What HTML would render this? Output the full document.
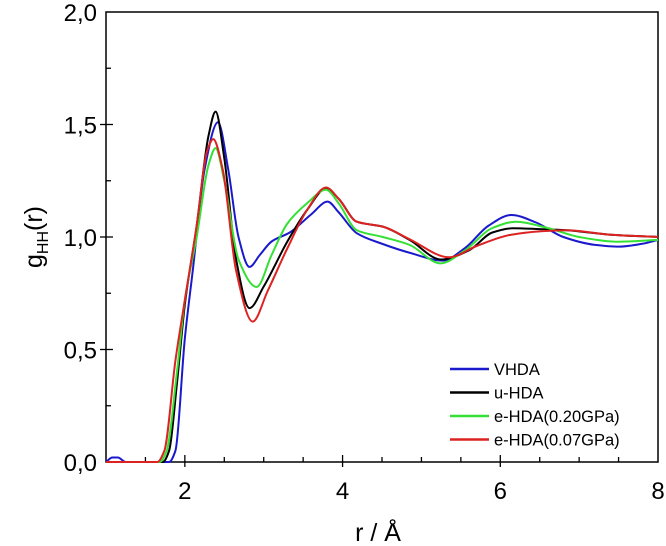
<!DOCTYPE html>
<html><head><meta charset="utf-8"><style>
html,body{margin:0;padding:0;background:#fff;}
svg{display:block;font-family:"Liberation Sans",sans-serif;}
</style></head><body>
<svg id="chart" width="666" height="546">
<g id="axes"></g>
<g id="series"></g>
<g id="legend"></g>
<text x="378" y="541" text-anchor="middle" font-size="25">r / Å</text>
<text transform="translate(42,237) rotate(-90)" text-anchor="middle" font-size="25">g<tspan font-size="16" dy="6">HH</tspan><tspan dy="-6">(r)</tspan></text>
</svg>
<script>
const xTicks=[2,4,6,8];
const xTickLabels=["2","4","6","8"];
const yTicks=[0,0.5,1.0,1.5,2.0];
const yTickLabels=["0,0","0,5","1,0","1,5","2,0"];
const seriesNames=["VHDA","u-HDA","e-HDA(0.20GPa)","e-HDA(0.07GPa)"];
const seriesColors=["#1a1acc","#000000","#33e033","#dd2222"];
const vhda=[[1,0],[1.08,0.02],[1.15,0.02],[1.25,0],[1.8,0],[1.88,0.05],[2.0,0.55],[2.1,0.85],[2.25,1.3],[2.42,1.51],[2.55,1.3],[2.68,1.0],[2.82,0.867],[2.95,0.92],[3.1,0.98],[3.33,1.02],[3.6,1.10],[3.81,1.157],[3.95,1.11],[4.18,1.017],[4.5,0.97],[4.85,0.93],[5.27,0.895],[5.55,0.95],[5.85,1.05],[6.14,1.098],[6.45,1.065],[6.8,1.0],[7.2,0.965],[7.5,0.957],[7.8,0.97],[8,0.987]];
const uhda=[[1,0],[1.72,0],[1.8,0.05],[1.9,0.35],[2.0,0.7],[2.15,1.05],[2.3,1.45],[2.39,1.557],[2.5,1.35],[2.65,0.9],[2.82,0.684],[3.0,0.78],[3.3,0.98],[3.55,1.12],[3.79,1.215],[3.95,1.17],[4.18,1.068],[4.51,1.046],[4.85,0.987],[5.25,0.90],[5.6,0.94],[5.9,1.02],[6.16,1.039],[6.5,1.035],[6.84,1.03],[7.4,1.01],[8,1.0]];
const ehda020=[[1,0],[1.68,0],[1.77,0.05],[1.9,0.4],[2.0,0.72],[2.15,1.0],[2.3,1.32],[2.39,1.395],[2.5,1.25],[2.68,0.9],[2.91,0.778],[3.1,0.92],[3.3,1.06],[3.55,1.15],[3.79,1.21],[3.95,1.15],[4.18,1.03],[4.51,1.0],[4.85,0.965],[5.24,0.883],[5.55,0.94],[5.9,1.04],[6.2,1.068],[6.6,1.04],[7.0,1.0],[7.5,0.979],[8,0.987]];
const ehda007=[[1,0],[1.65,0],[1.74,0.05],[1.88,0.45],[2.0,0.72],[2.15,1.05],[2.28,1.38],[2.36,1.435],[2.48,1.3],[2.65,0.85],[2.86,0.624],[3.05,0.76],[3.3,0.95],[3.55,1.12],[3.79,1.22],[3.95,1.17],[4.18,1.068],[4.51,1.046],[4.85,0.99],[5.35,0.91],[5.7,0.96],[6.12,1.009],[6.5,1.025],[6.84,1.03],[7.4,1.01],[8,1.0]];

const L=106,R=658,T=12,B=462,xmin=1,xmax=8,ymin=0,ymax=2;
const X=v=>L+(v-xmin)/(xmax-xmin)*(R-L);
const Y=v=>B-(v-ymin)/(ymax-ymin)*(B-T);
const NS="http://www.w3.org/2000/svg";
function mk(tag,attrs,parent){const e=document.createElementNS(NS,tag);for(const k in attrs)e.setAttribute(k,attrs[k]);parent.appendChild(e);return e;}
const axes=document.getElementById('axes');
let f=mk('rect',{x:L,y:T,width:R-L,height:B-T,fill:'none',stroke:'#000','stroke-width':1.5},axes);


for(let v=1.5;v<8;v+=0.5){const maj=Math.abs(v-Math.round(v/2)*2)<1e-9;
 let t=mk('line',{x1:X(v),x2:X(v),y1:B-(maj?7:5),y2:B+(maj?5:0),stroke:'#000','stroke-width':1.3},axes);
 
 }
xTicks.forEach((v,i)=>{let t=mk('text',{x:X(v),y:B+37,'text-anchor':'middle','font-size':24},axes);t.textContent=xTickLabels[i];
 
 });
for(let v=0.25;v<2;v+=0.25){const maj=Math.abs(v*2-Math.round(v*2))<1e-9;
 let t=mk('line',{x1:L-(maj?6:0),x2:L+(maj?7:5),y1:Y(v),y2:Y(v),stroke:'#000','stroke-width':1.3},axes);
 
 }
yTicks.forEach((v,i)=>{let t=mk('text',{x:L-9,y:Y(v)+9,'text-anchor':'end','font-size':24},axes);t.textContent=yTickLabels[i];
 
 });
function pathD(pts){const x=pts.map(d=>X(d[0])),y=pts.map(d=>Y(d[1]));const n=x.length;
 const dx=[],s=[];for(let i=0;i<n-1;i++){dx.push(x[i+1]-x[i]);s.push((y[i+1]-y[i])/dx[i]);}
 const m=new Array(n);m[0]=s[0];m[n-1]=s[n-2];
 for(let i=1;i<n-1;i++){if(s[i-1]*s[i]<=0)m[i]=0;else{const w1=2*dx[i]+dx[i-1],w2=dx[i]+2*dx[i-1];m[i]=(w1+w2)/(w1/s[i-1]+w2/s[i]);}}
 let d='M'+x[0]+','+y[0];
 for(let i=0;i<n-1;i++){const h=dx[i]/3;d+=' C'+(x[i]+h)+','+(y[i]+m[i]*h)+' '+(x[i+1]-h)+','+(y[i+1]-m[i+1]*h)+' '+x[i+1]+','+y[i+1];}
 return d;}
const ser=document.getElementById('series');
const allData=[vhda,uhda,ehda020,ehda007];
const sNames=['line-vhda','line-u-hda','line-e-hda-020','line-e-hda-007'];
allData.forEach((d,i)=>{let p=mk('path',{d:pathD(d),fill:'none',stroke:seriesColors[i],'stroke-width':2},ser);
 
 });
const lg=document.getElementById('legend');
seriesNames.forEach((n,i)=>{const y=369+i*23.5;
 let l=mk('line',{x1:450,x2:489,y1:y,y2:y,stroke:seriesColors[i],'stroke-width':2.5},lg);
 
 
 let t=mk('text',{x:494,y:y+6,'font-size':16.5},lg);t.textContent=n;
 
 });
</script>
</body></html>
